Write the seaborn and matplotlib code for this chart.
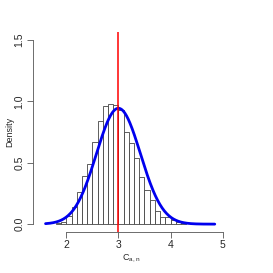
import numpy as np
import pandas as pd
import matplotlib
matplotlib.use("Agg")
import matplotlib.pyplot as plt
import seaborn as sns

# histogram bins (width 0.1) and density heights
bin_left = [1.8, 1.9, 2.0, 2.1, 2.2, 2.3, 2.4, 2.5, 2.6, 2.7, 2.8, 2.9,
            3.0, 3.1, 3.2, 3.3, 3.4, 3.5, 3.6, 3.7, 3.8, 3.9, 4.0, 4.1, 4.2]
density = [0.01, 0.02, 0.07, 0.14, 0.26, 0.39, 0.49, 0.67, 0.84, 0.96, 0.975, 0.967,
           0.93, 0.75, 0.66, 0.54, 0.38, 0.28, 0.20, 0.11, 0.06, 0.06, 0.03, 0.02, 0.01]
bin_width = 0.1

# fitted normal curve parameters
curve_mean = 3.0
curve_sd = 0.423
curve_from, curve_to = 1.6, 4.85

true_value = 3.0

sns.set_style("ticks")
plt.rcParams['font.family'] = ['Liberation Sans', 'DejaVu Sans']
plt.rcParams['mathtext.fontset'] = 'custom'
plt.rcParams['mathtext.rm'] = 'Liberation Sans'
plt.rcParams['mathtext.it'] = 'Liberation Sans'

df = pd.DataFrame({"left": bin_left, "density": density})
df["mid"] = df["left"] + bin_width / 2
edges = list(df["left"]) + [df["left"].iloc[-1] + bin_width]

fig = plt.figure(figsize=(2.73, 2.73), dpi=100)
ax = fig.add_axes([0.121, 0.152, 0.721, 0.729])

sns.histplot(data=df, x="mid", weights="density", bins=edges, stat="count",
             color="white", edgecolor="#444444", linewidth=0.6, alpha=1, ax=ax)

xs = np.linspace(curve_from, curve_to, 300)
ys = np.exp(-0.5 * ((xs - curve_mean) / curve_sd) ** 2) / (curve_sd * np.sqrt(2 * np.pi))
sns.lineplot(x=xs, y=ys, color="#0000ee", linewidth=2.0, ax=ax)

ax.axvline(true_value, color="#ff0000", linewidth=1.1)

ax.set_xlim(1.36, 5.14)
ax.set_ylim(-0.06, 1.56)
ax.set_xticks([2, 3, 4, 5])
ax.set_yticks([0.0, 0.5, 1.0, 1.5])
ax.set_yticklabels(["0.0", "0.5", "1.0", "1.5"], rotation=90, va="center")
ax.tick_params(labelsize=7.5, length=4, width=0.6, color="#555555", pad=2)

for s in ["top", "right"]:
    ax.spines[s].set_visible(False)
ax.spines["left"].set_bounds(0, 1.5)
ax.spines["bottom"].set_bounds(2, 5)
for s in ["left", "bottom"]:
    ax.spines[s].set_linewidth(0.6)
    ax.spines[s].set_color("#555555")

ax.set_xlabel(r"$\mathregular{C_{a,\,n}}$", fontsize=6.5, labelpad=2)
ax.set_ylabel("Density", fontsize=6.5, labelpad=0)

fig.savefig("out.png", dpi=100)
